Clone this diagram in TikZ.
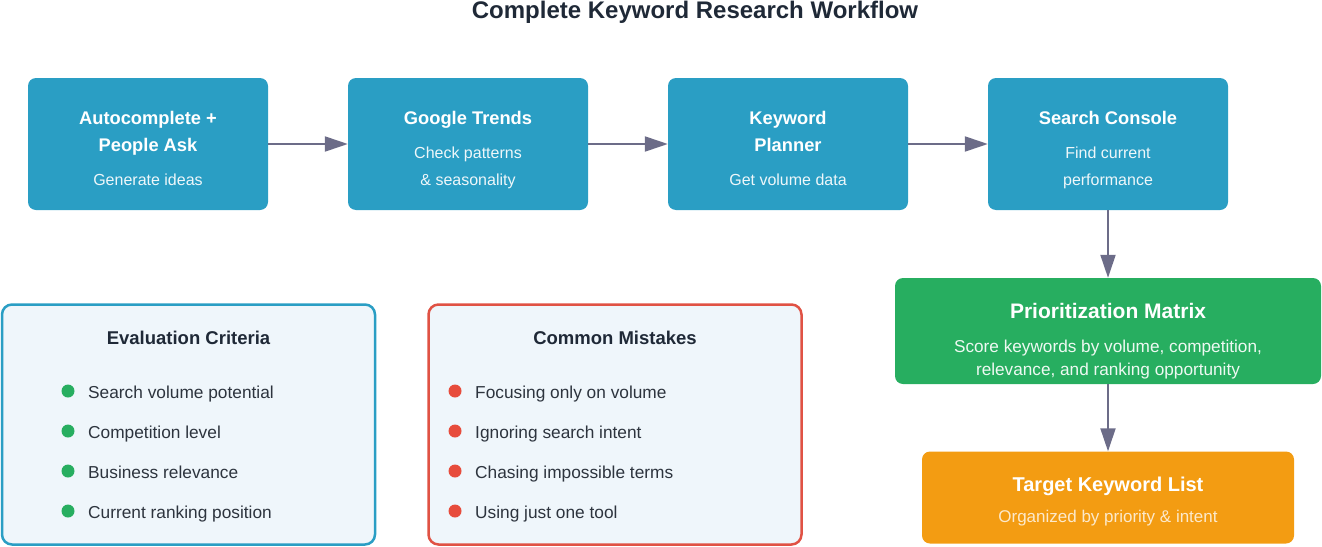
\documentclass[tikz,border=0pt]{standalone}
\usepackage{fontspec}
\setmainfont{Liberation Sans}
\usetikzlibrary{arrows.meta}
\definecolor{flowblue}{RGB}{42,158,196}
\definecolor{flowgreen}{RGB}{39,174,96}
\definecolor{floworange}{RGB}{243,156,18}
\definecolor{arrowgray}{RGB}{108,108,136}
\definecolor{panelfill}{RGB}{239,246,251}
\definecolor{panelred}{RGB}{224,82,68}
\definecolor{bulletred}{RGB}{231,76,60}
\definecolor{inkdark}{RGB}{31,41,55}
\definecolor{inktext}{RGB}{45,52,62}
\tikzset{
  flowbox/.style={fill=flowblue,rounded corners=8pt,inner sep=0pt,minimum width=240pt,minimum height=132pt},
  flowhead/.style={anchor=base,text=white,font=\fontsize{18.3}{22}\selectfont\bfseries},
  flowsub/.style={anchor=base,text=white!92!flowblue,font=\fontsize{16}{20}\selectfont},
  flowarrow/.style={draw=arrowgray,line width=2pt,-{Triangle[length=23pt,width=15pt]}},
  panel/.style={fill=panelfill,line width=2.5pt,rounded corners=10pt,inner sep=0pt,minimum width=373pt,minimum height=240pt},
  panelhead/.style={anchor=base,text=inkdark,font=\fontsize{18.5}{22}\selectfont\bfseries},
  dot/.style={circle,inner sep=0pt,minimum size=13pt},
  item/.style={anchor=base west,inner sep=0pt,text=inktext,font=\fontsize{17.3}{21}\selectfont}
}
\begin{document}
\begin{tikzpicture}[x=1pt,y=-1pt]
\useasboundingbox (0,0) rectangle (1322,546);
\node[anchor=base,text=inkdark,font=\fontsize{24}{28}\selectfont\bfseries] (title) at (695,18) {Complete Keyword Research Workflow};

% workflow steps
\node[flowbox] (auto) at (148,144) {};
\node[flowhead] (autoa) at (148,124) {Autocomplete +};
\node[flowhead] (autob) at (148,151) {People Ask};
\node[flowsub] (autoc) at (148,185) {Generate ideas};

\node[flowbox] (trends) at (468,144) {};
\node[flowhead] (trendsa) at (468,124) {Google Trends};
\node[flowsub] (trendsb) at (468,158) {Check patterns};
\node[flowsub] (trendsc) at (468,185) {\& seasonality};

\node[flowbox] (planner) at (788,144) {};
\node[flowhead] (plannera) at (788,124) {Keyword};
\node[flowhead] (plannerb) at (788,151) {Planner};
\node[flowsub] (plannerc) at (788,185) {Get volume data};

\node[flowbox] (console) at (1108,144) {};
\node[flowhead] (consolea) at (1108,124) {Search Console};
\node[flowsub] (consoleb) at (1108,158) {Find current};
\node[flowsub] (consolec) at (1108,185) {performance};

\node[flowbox,fill=flowgreen,minimum width=426pt,minimum height=106pt] (matrix) at (1108,331) {};
\node[flowhead,font=\fontsize{21}{25}\selectfont\bfseries] (matrixa) at (1108,318) {Prioritization Matrix};
\node[flowsub,text=white!92!flowgreen,font=\fontsize{17.2}{21}\selectfont] (matrixb) at (1108,352) {Score keywords by volume, competition,};
\node[flowsub,text=white!92!flowgreen,font=\fontsize{17.2}{21}\selectfont] (matrixc) at (1108,375) {relevance, and ranking opportunity};

\node[flowbox,fill=floworange,minimum width=372pt,minimum height=92pt] (target) at (1108,497.5) {};
\node[flowhead,font=\fontsize{20}{24}\selectfont\bfseries] (targeta) at (1108,491) {Target Keyword List};
\node[flowsub,text=white!78!floworange,font=\fontsize{17}{21}\selectfont] (targetb) at (1108,522) {Organized by priority \& intent};

\draw[flowarrow] (auto) -- (trends);
\draw[flowarrow] (trends) -- (planner);
\draw[flowarrow] (planner) -- (console);
\draw[flowarrow] (console) -- (matrix);
\draw[flowarrow] (matrix) -- (target);

% side panels
\node[panel,draw=flowblue] (crit) at (188.5,424.5) {};
\node[panelhead] (crita) at (188.5,344) {Evaluation Criteria};
\node[dot,fill=flowgreen] (critdota) at (68,391) {};
\node[item] (critb) at (88,398) {Search volume potential};
\node[dot,fill=flowgreen] (critdotb) at (68,431) {};
\node[item] (critc) at (88,438) {Competition level};
\node[dot,fill=flowgreen] (critdotc) at (68,471) {};
\node[item] (critd) at (88,478) {Business relevance};
\node[dot,fill=flowgreen] (critdotd) at (68,511) {};
\node[item] (crite) at (88,518) {Current ranking position};

\node[panel,draw=panelred] (miss) at (615,424.5) {};
\node[panelhead] (missa) at (615,344) {Common Mistakes};
\node[dot,fill=bulletred] (missdota) at (455,391) {};
\node[item] (missb) at (475,398) {Focusing only on volume};
\node[dot,fill=bulletred] (missdotb) at (455,431) {};
\node[item] (missc) at (475,438) {Ignoring search intent};
\node[dot,fill=bulletred] (missdotc) at (455,471) {};
\node[item] (missd) at (475,478) {Chasing impossible terms};
\node[dot,fill=bulletred] (missdotd) at (455,511) {};
\node[item] (misse) at (475,518) {Using just one tool};
\end{tikzpicture}
\end{document}
